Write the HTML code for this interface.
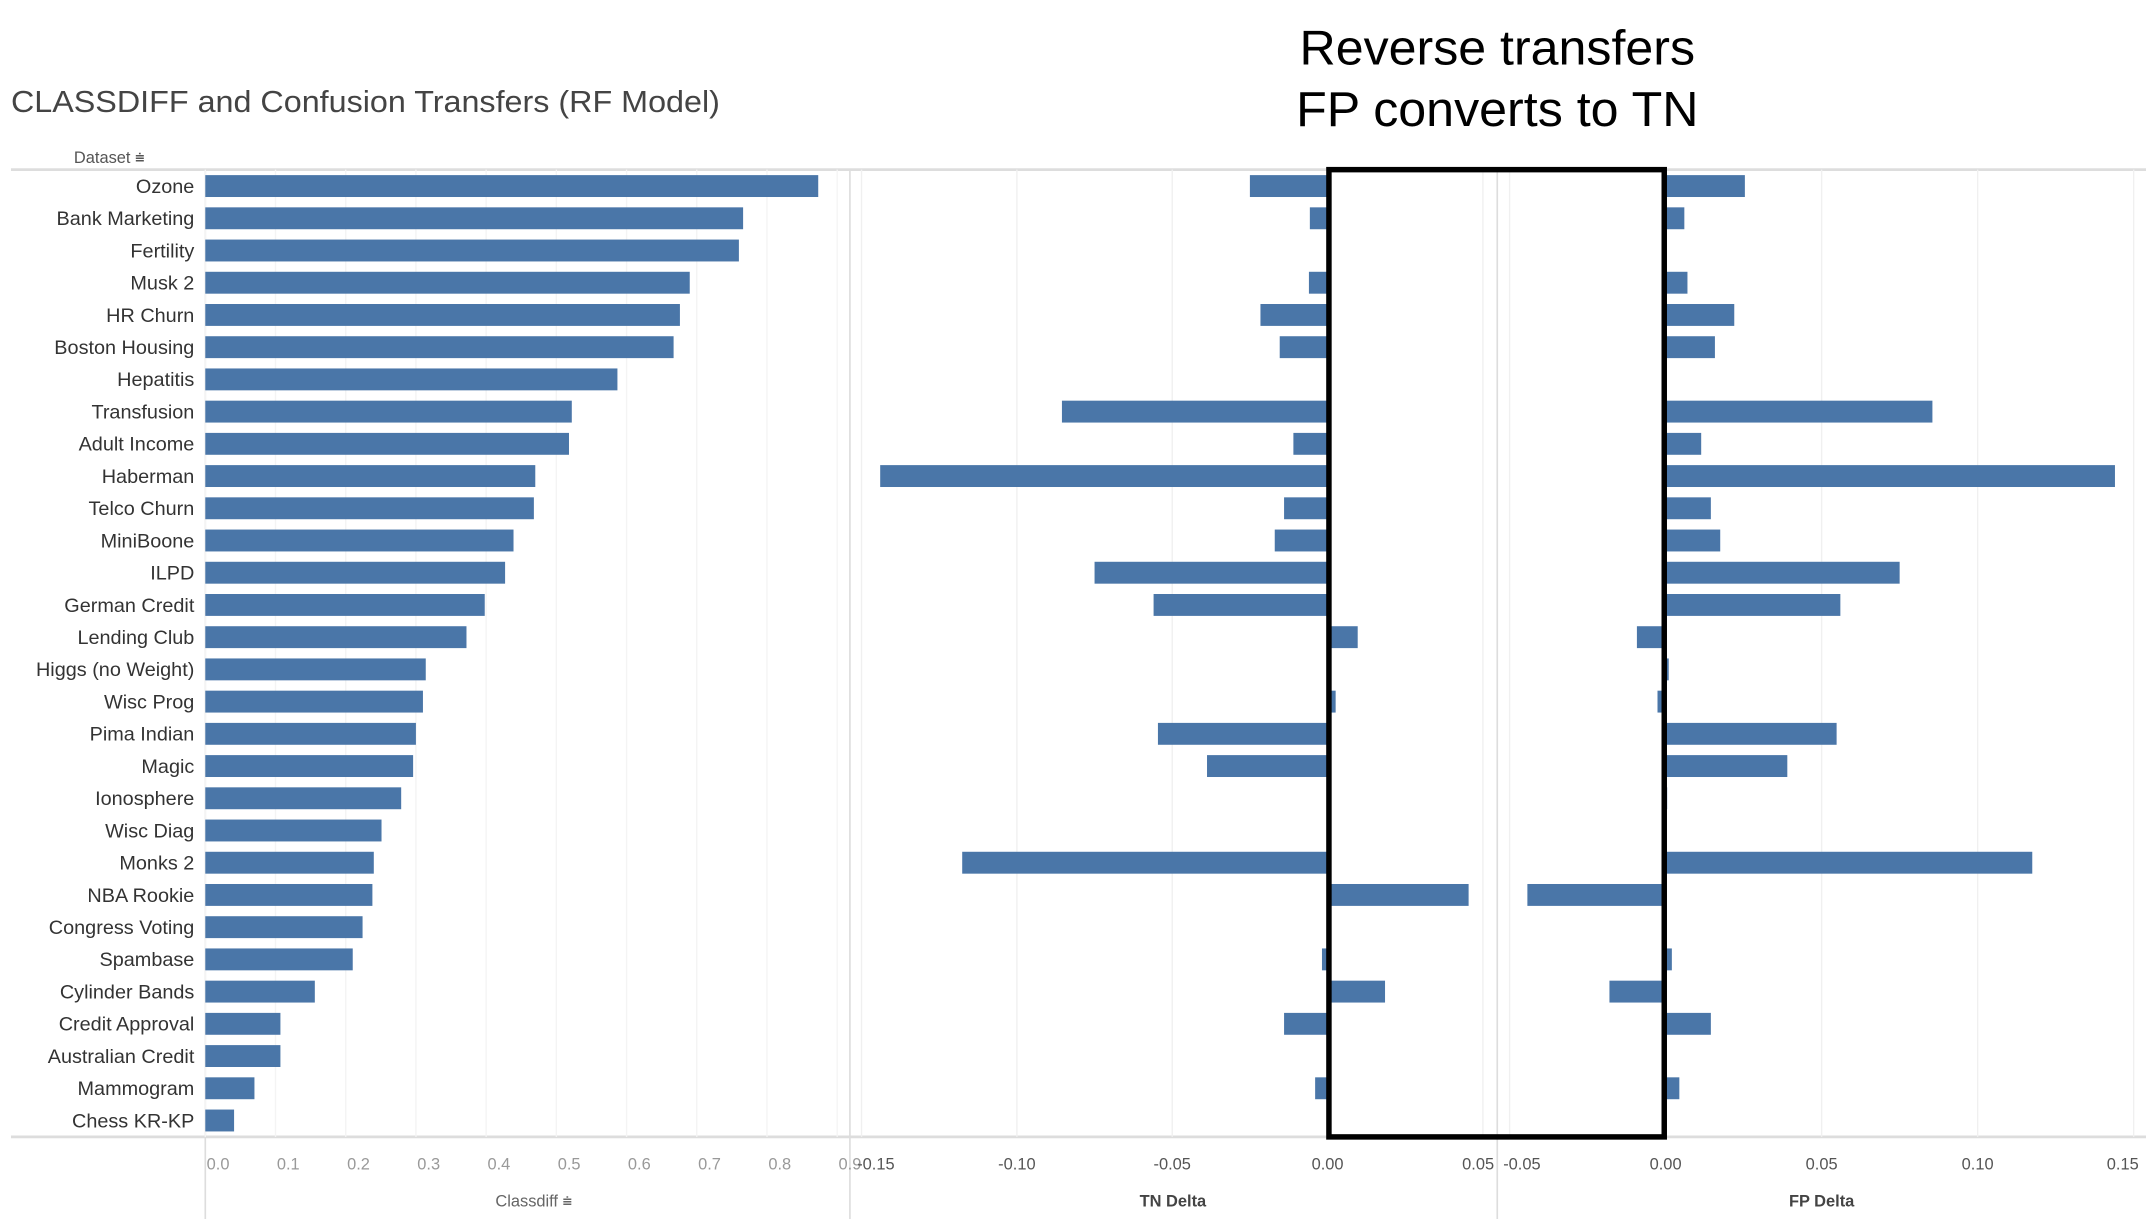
<!DOCTYPE html>
<html><head><meta charset="utf-8"><style>
html,body{margin:0;padding:0;background:#fff;}
svg{display:block;font-family:"Liberation Sans",sans-serif;}
</style></head><body>
<svg id="chart" width="2146" height="1219" viewBox="0 0 1568 891" preserveAspectRatio="none" xmlns="http://www.w3.org/2000/svg">
<text x="8" y="82" font-size="22" fill="#444" textLength="518" lengthAdjust="spacingAndGlyphs">CLASSDIFF and Confusion Transfers (RF Model)</text>
<text x="1094" y="47" font-size="36" text-anchor="middle" fill="#000" textLength="289" lengthAdjust="spacingAndGlyphs">Reverse transfers</text>
<text x="1094" y="92" font-size="36" text-anchor="middle" fill="#000" textLength="294" lengthAdjust="spacingAndGlyphs">FP converts to TN</text>
<text x="54" y="119" font-size="12" fill="#555">Dataset ⩧</text>
<g id="grid"></g><g id="bars"></g><g id="labels"></g><g id="axes"></g>
<rect x="971" y="124" width="245" height="707" fill="none" stroke="#000" stroke-width="4"/>
</svg>
<script>
const datasets=["Ozone","Bank Marketing","Fertility","Musk 2","HR Churn","Boston Housing","Hepatitis","Transfusion","Adult Income","Haberman","Telco Churn","MiniBoone","ILPD","German Credit","Lending Club","Higgs (no Weight)","Wisc Prog","Pima Indian","Magic","Ionosphere","Wisc Diag","Monks 2","NBA Rookie","Congress Voting","Spambase","Cylinder Bands","Credit Approval","Australian Credit","Mammogram","Chess KR-KP"];
const classdiff=[0.873,0.766,0.760,0.690,0.676,0.667,0.587,0.522,0.518,0.470,0.468,0.439,0.427,0.398,0.372,0.314,0.310,0.300,0.296,0.279,0.251,0.240,0.238,0.224,0.210,0.156,0.107,0.107,0.070,0.041];
const tnDelta=[-0.025,-0.0057,0,-0.006,-0.0216,-0.0154,0,-0.0855,-0.011,-0.144,-0.014,-0.017,-0.075,-0.056,0.0097,0,0.0026,-0.0546,-0.0388,0,0,-0.1176,0.0454,0,-0.0018,0.0185,-0.014,0,-0.004,0];
const fpDelta=[0.0254,0.006,0,0.007,0.022,0.0158,0,0.0855,0.0114,0.144,0.0145,0.0175,0.075,0.056,-0.0092,0.001,-0.0026,0.0548,0.039,0.0005,0,0.1175,-0.0443,0,0.002,-0.018,0.0145,0,0.0044,0];
const cdTicks=["0.0","0.1","0.2","0.3","0.4","0.5","0.6","0.7","0.8","0.9"];
const tnTicks=[-0.15,-0.10,-0.05,0.00,0.05];
const fpTicks=[-0.05,0.00,0.05,0.10,0.15];
const NS="http://www.w3.org/2000/svg";
const xCd=v=>150+v*513, xTn=v=>970+v*2270, xFp=v=>1217+v*2280;
const yRow=i=>136+i*(683/29);
const bh=16;
function mk(tag,attrs,parent){const e=document.createElementNS(NS,tag);for(const k in attrs)e.setAttribute(k,attrs[k]);document.getElementById(parent).appendChild(e);return e;}
let l=mk('line',{x1:8,x2:1568,y1:124,y2:124,stroke:'#ddd','stroke-width':2},'grid');


l=mk('line',{x1:8,x2:1568,y1:831,y2:831,stroke:'#ddd','stroke-width':2},'grid');


[150,621,1094].forEach(x=>{const d=mk('line',{x1:x,x2:x,y1:124,y2:891,stroke:'#ddd','stroke-width':1.2},'grid');

});
cdTicks.forEach((t,i)=>{const x=xCd(parseFloat(t));
const g=mk('line',{x1:x,x2:x,y1:124,y2:831,stroke:'#f4f4f4'},'grid');


const tx=mk('text',{x:x+1,y:855,'font-size':12,fill:'#999'},'axes');tx.textContent=t;

});
tnTicks.forEach(t=>{const x=xTn(t);
const g=mk('line',{x1:x,x2:x,y1:124,y2:831,stroke:'#f0f0f0'},'grid');


let cx=Math.min(Math.max(x,640),1080);
const tx=mk('text',{x:cx,y:855,'font-size':12,fill:'#555','text-anchor':'middle'},'axes');tx.textContent=t.toFixed(2);

});
fpTicks.forEach(t=>{const x=xFp(t);
const g=mk('line',{x1:x,x2:x,y1:124,y2:831,stroke:'#f0f0f0'},'grid');


let cx=Math.min(Math.max(x,1112),1551);
const tx=mk('text',{x:cx,y:855,'font-size':12,fill:'#555','text-anchor':'middle'},'axes');tx.textContent=t.toFixed(2);

});
[["Classdiff ⩧",390,'classdiff-axis-title','normal','#666'],["TN Delta",857,'tn-axis-title','bold','#444'],["FP Delta",1331,'fp-axis-title','bold','#444']].forEach(a=>{
const tx=mk('text',{x:a[1],y:882,'font-size':12,fill:a[4],'text-anchor':'middle','font-weight':a[3]},'axes');tx.textContent=a[0];

});
datasets.forEach((d,i)=>{const y=yRow(i);
const tx=mk('text',{x:142,y:y+5,'font-size':14.5,fill:'#333','text-anchor':'end'},'labels');tx.textContent=d;


let r=mk('rect',{x:xCd(0),y:y-bh/2,width:xCd(classdiff[i])-xCd(0),height:bh,fill:'#4a76a8'},'bars');


if(tnDelta[i]!==0){const a=xTn(0),b=xTn(tnDelta[i]);
r=mk('rect',{x:Math.min(a,b),y:y-bh/2,width:Math.abs(b-a),height:bh,fill:'#4a76a8'},'bars');

}
if(fpDelta[i]!==0){const a=xFp(0),b=xFp(fpDelta[i]);
r=mk('rect',{x:Math.min(a,b),y:y-bh/2,width:Math.abs(b-a),height:bh,fill:'#4a76a8'},'bars');

}
});
</script>
</body></html>
